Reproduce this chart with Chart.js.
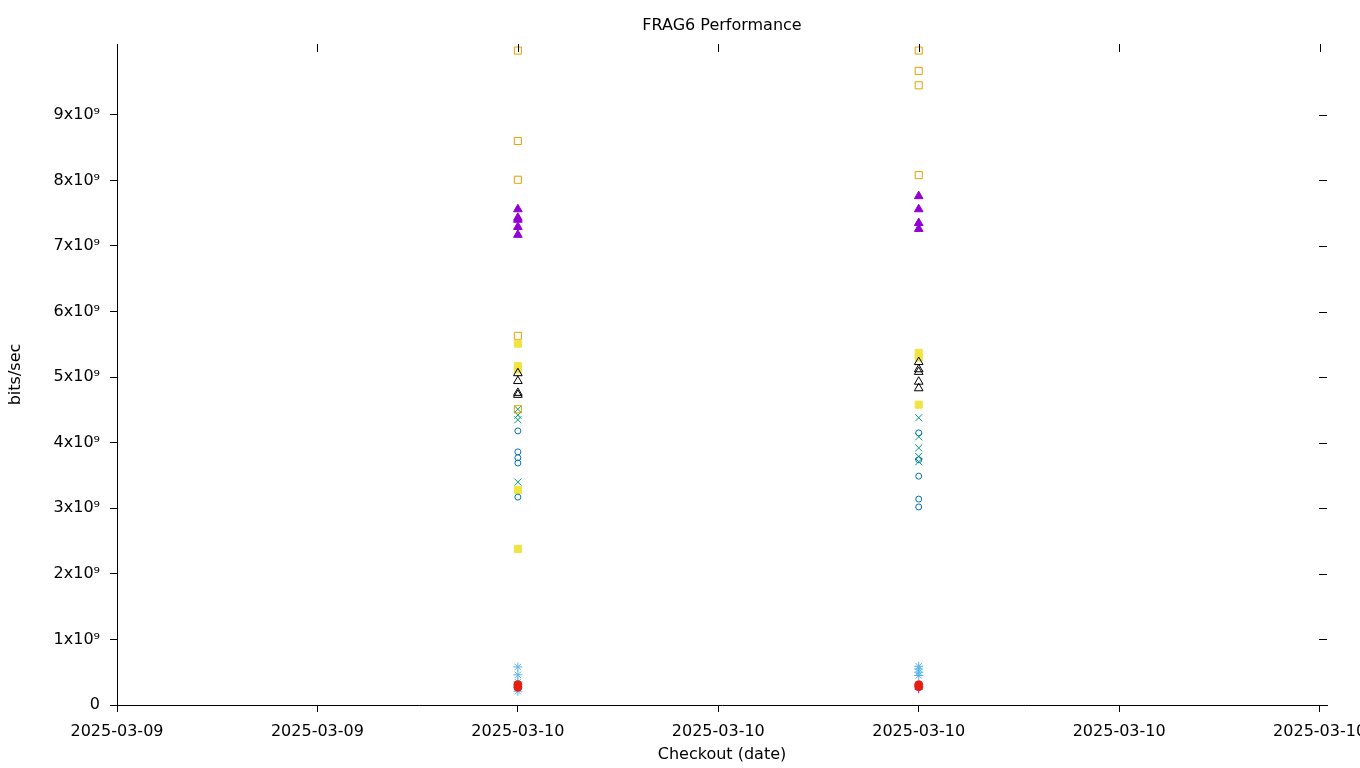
<!DOCTYPE html>
<html>
<head>
<meta charset="utf-8">
<script src="https://cdn.jsdelivr.net/npm/chart.js@4"></script>
<style>
  html, body { margin: 0; padding: 0; background: #fff; }
  #wrap { width: 1360px; height: 768px; }
</style>
</head>
<body>
<div id="wrap"><canvas id="myChart" width="1360" height="768"></canvas></div>
<script>
// x 轴标签（按刻度位置）
const xTickLabels = [
  "2025-03-09",
  "2025-03-09",
  "2025-03-10",
  "2025-03-10",
  "2025-03-10",
  "2025-03-10",
  "2025-03-10",
];
const xTickValues = [0, 1, 2, 3, 4, 5, 6];
const yTickValues = [0, 1e9, 2e9, 3e9, 4e9, 5e9, 6e9, 7e9, 8e9, 9e9];
const runX = [2, 4]; // 两次 checkout 在 x 轴上的位置

// 每个系列: 两次运行的数值 (bits/sec, 单位 1e9)
const plusPurpleA = [0.29];
const plusPurpleB = [0.24];
const crossTealA = [4.51, 4.42, 4.35, 3.40];
const crossTealB = [4.38, 4.09, 3.92, 3.79, 3.71];
const starSkyA = [0.58, 0.46, 0.35, 0.21];
const starSkyB = [0.59, 0.55, 0.50, 0.45];
const squareOrangeA = [9.98, 8.60, 8.01, 5.63, 4.51];
const squareOrangeB = [9.98, 9.67, 9.45, 8.08];
const fillYellowA = [5.51, 5.17, 5.12, 3.28, 2.38];
const fillYellowB = [5.37, 5.30, 4.58];
const circleBlueA = [4.18, 3.86, 3.77, 3.69, 3.17];
const circleBlueB = [4.15, 3.74, 3.49, 3.14, 3.02];
const dotRedA = [0.31, 0.27];
const dotRedB = [0.31, 0.28];
const triBlackA = [5.06, 4.94, 4.76, 4.73];
const triBlackB = [5.23, 5.12, 5.08, 4.93, 4.83];
const triPurpleA = [7.56, 7.43, 7.40, 7.29, 7.17];
const triPurpleB = [7.76, 7.56, 7.35, 7.26];

const yMax = 10.08e9;
const xMax = 6.037;

function pts(a, b) {
  const out = [];
  a.forEach((v) => out.push({ x: runX[0], y: v * 1e9 }));
  b.forEach((v) => out.push({ x: runX[1], y: v * 1e9 }));
  return out;
}

function series(a, b, color, style, radius, filled) {
  return {
    data: pts(a, b),
    pointStyle: style,
    pointRadius: radius,
    pointHoverRadius: radius,
    borderColor: color,
    backgroundColor: filled ? color : "rgba(0,0,0,0)",
    pointBorderWidth: 1,
    showLine: false,
  };
}

// gnuplot 后画的在上层，Chart.js 先列出的在上层，所以倒序
const datasets = [
  series(triPurpleA, triPurpleB, "#9400d3", "triangle", 5, true),
  series(triBlackA, triBlackB, "#000000", "triangle", 5, false),
  series(dotRedA, dotRedB, "#e51e10", "circle", 4, true),
  series(circleBlueA, circleBlueB, "#0072b2", "circle", 3, false),
  series(fillYellowA, fillYellowB, "#f0e442", "rect", 5, true),
  series(squareOrangeA, squareOrangeB, "#e69f00", "rect", 5, false),
  series(starSkyA, starSkyB, "#56b4e9", "star", 4.5, false),
  series(crossTealA, crossTealB, "#009e73", "crossRot", 5, false),
  series(plusPurpleA, plusPurpleB, "#9400d3", "cross", 4, false),
];

// 镜像刻度：顶部和右侧向内的小刻度
const mirrorTicks = {
  id: "mirrorTicks",
  afterDraw(chart) {
    const c = chart.ctx;
    const area = chart.chartArea;
    const xs = chart.scales.x;
    const ys = chart.scales.y;
    c.save();
    c.strokeStyle = "#000";
    c.lineWidth = 1;
    c.beginPath();
    xs.ticks.forEach((t) => {
      if (t.value === 0) return;
      const px = Math.round(xs.getPixelForValue(t.value)) + 0.5;
      c.moveTo(px, area.top);
      c.lineTo(px, area.top + 8);
    });
    ys.ticks.forEach((t) => {
      if (t.value === 0) return;
      const py = Math.round(ys.getPixelForValue(t.value)) + 0.5;
      c.moveTo(area.right - 8, py);
      c.lineTo(area.right, py);
    });
    c.stroke();
    c.restore();
  },
};

Chart.defaults.font.family = "'DejaVu Sans', sans-serif";
Chart.defaults.font.size = 16;
Chart.defaults.color = "#000";

const ctx = document.getElementById("myChart");
const config = {
  type: "scatter",
  data: { datasets: datasets },
  plugins: [mirrorTicks],
  options: {
    responsive: false,
    animation: false,
    layout: { padding: { top: 0, right: 33, bottom: 0, left: 0 } },
    plugins: {
      legend: { display: false },
      tooltip: { enabled: false },
      title: {
        display: true,
        text: "FRAG6 Performance",
        fullSize: false,
        color: "#000",
        font: { size: 16, weight: "normal" },
        padding: { top: 16.4, bottom: 8.4 },
      },
    },
    scales: {
      x: {
        type: "linear",
        min: 0,
        max: xMax,
        border: { color: "#000", width: 1 },
        grid: { drawOnChartArea: false, drawTicks: true, tickLength: 7, color: "#000" },
        ticks: {
          autoSkip: false,
          maxRotation: 0,
          padding: 10,
          color: "#000",
          callback: (v) => xTickLabels[Math.round(v)] || "",
        },
        afterBuildTicks: (s) => {
          s.ticks = xTickValues.map((v) => ({ value: v }));
        },
        title: { display: true, text: "Checkout (date)", color: "#000", padding: { top: 4, bottom: 4 } },
        afterFit: (s) => {
          s.height = 63;
          s.paddingLeft = 0;
          s.paddingRight = 0;
        },
      },
      y: {
        type: "linear",
        min: 0,
        max: yMax,
        border: { color: "#000", width: 1 },
        grid: { drawOnChartArea: false, drawTicks: true, tickLength: 7, color: "#000" },
        ticks: {
          autoSkip: false,
          padding: 10,
          color: "#000",
          callback: (v) => (v === 0 ? "0" : Math.round(v / 1e9) + "x10\u2079"),
        },
        afterBuildTicks: (s) => {
          s.ticks = yTickValues.map((v) => ({ value: v }));
        },
        title: { display: true, text: "bits/sec", color: "#000", padding: { top: 6, bottom: 4 } },
        afterFit: (s) => {
          s.width = 117;
          s.paddingTop = 0;
          s.paddingBottom = 0;
        },
      },
    },
  },
};
const myChart = new Chart(ctx, config);
</script>
</body>
</html>
